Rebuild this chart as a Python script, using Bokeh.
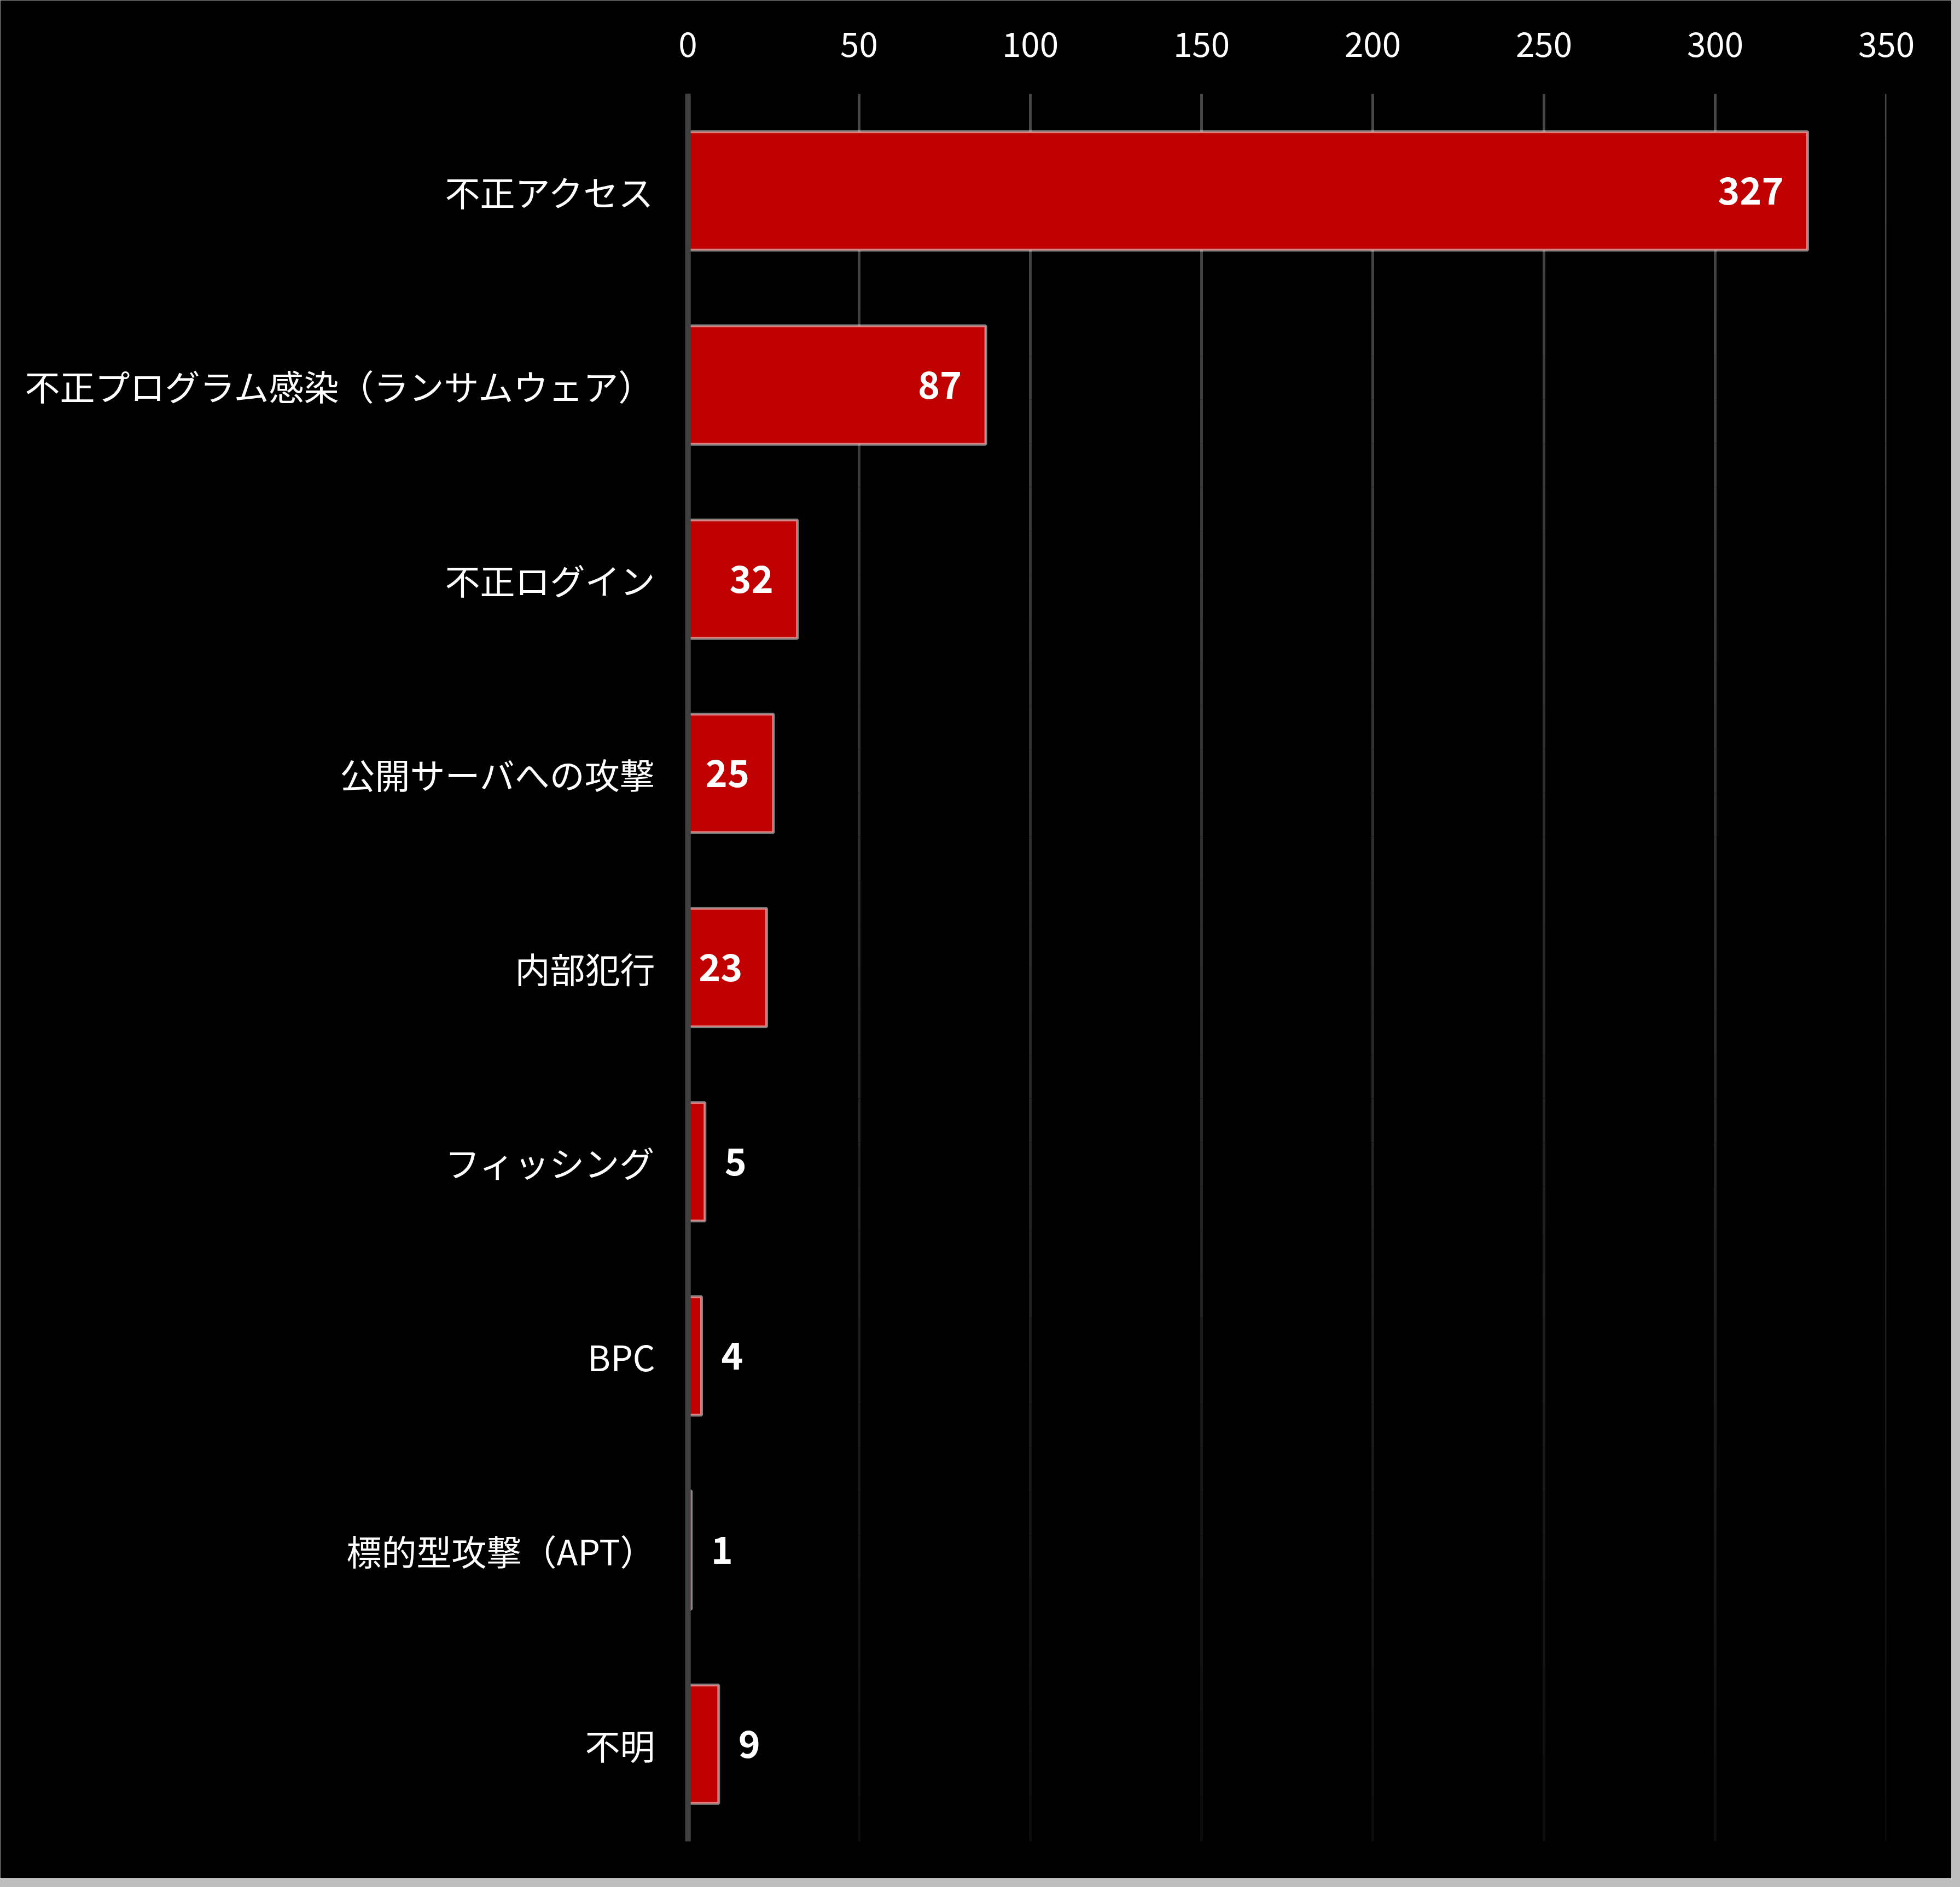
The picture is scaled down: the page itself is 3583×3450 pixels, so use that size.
from bokeh.core.properties import value
from bokeh.embed import file_html
from bokeh.models import ColumnDataSource, FactorRange, FixedTicker, Range1d
from bokeh.plotting import figure
from bokeh.resources import INLINE

# data, top to bottom as in the chart
categories = ["不正アクセス", "不正プログラム感染（ランサムウェア）", "不正ログイン",
              "公開サーバへの攻撃", "内部犯行", "フィッシング", "BPC",
              "標的型攻撃（APT）", "不明"]
counts = [327, 87, 32, 25, 23, 5, 4, 1, 9]
x_ticks = [0, 50, 100, 150, 200, 250, 300, 350]

JP = "Noto Sans CJK JP"

p = figure(width=3567, height=3434, output_backend="svg", toolbar_location=None,
           title=None, x_axis_location="above",
           x_range=Range1d(0, 350), y_range=FactorRange(*reversed(categories)),
           min_border_left=1257, min_border_right=119,
           min_border_top=171, min_border_bottom=68)
p.background_fill_color = "black"
p.border_fill_color = "black"
# black host so no light seams show between frame and border; grey edge round it
p.styles = {"background-color": "black",
            "outline": "5px solid #BEBEBE", "outline-offset": "-5px",
            "box-shadow": "0 0 0 16px #BEBEBE"}
p.outline_line_color = None
p.xgrid.grid_line_color = None
p.ygrid.grid_line_color = None
p.y_range.range_padding = 0

n_cat = len(categories)

# fading vertical gridlines (grey at the top, almost black at the bottom)
n_steps = 40
gx, gy0, gy1, gcol = [], [], [], []
top_c, bot_c = (0x48, 0x48, 0x48), (0x0c, 0x0c, 0x0c)
for t in x_ticks[1:]:
    for i in range(n_steps):
        f = (i + 0.5) / n_steps
        c = tuple(int(round(a + (b - a) * f)) for a, b in zip(top_c, bot_c))
        gx.append(t)
        gy0.append(n_cat - n_cat * i / n_steps)
        gy1.append(n_cat - n_cat * (i + 1) / n_steps)
        gcol.append("#%02x%02x%02x" % c)
p.segment(x0="x", y0="y0", x1="x", y1="y1", line_color="c", line_width=5,
          line_cap="butt", source=ColumnDataSource(dict(x=gx, y0=gy0, y1=gy1, c=gcol)))

src = ColumnDataSource(dict(cat=categories, n=counts,
                            label=[str(v) for v in counts],
                            align=["right" if v >= 20 else "left" for v in counts],
                            dx=[-44 if v >= 20 else 36 for v in counts]))

p.hbar(y="cat", left=0, right="n", height=0.61, source=src,
       fill_color="#C00000", line_color="white", line_alpha=0.5, line_width=5)

# grey zero line over the bar starts (inner half; the axis rule gives the outer half)
p.segment(x0=[0], y0=[0], x1=[0], y1=[n_cat], line_color="#404040", line_width=10,
          line_cap="butt")

p.text(x="n", y="cat", text="label", source=src, x_offset="dx",
       text_align="align", text_baseline="middle",
       text_font=value(JP), text_font_style="bold", text_font_size="68px",
       text_color="white")

p.xaxis.ticker = FixedTicker(ticks=x_ticks)
p.xaxis.axis_line_color = None
p.xaxis.major_tick_line_color = None
p.xaxis.minor_tick_line_color = None
p.xaxis.major_tick_out = 0
p.xaxis.major_label_standoff = 68
p.xaxis.major_label_text_font = JP
p.xaxis.major_label_text_font_size = "62px"
p.xaxis.major_label_text_color = "white"

p.yaxis.axis_line_color = "#404040"
p.yaxis.axis_line_width = 10
p.yaxis.major_tick_line_color = None
p.yaxis.minor_tick_line_color = None
p.yaxis.major_tick_out = 0
p.yaxis.major_label_standoff = 60
p.yaxis.major_label_text_font = JP
p.yaxis.major_label_text_font_size = "64px"
p.yaxis.major_label_text_color = "white"

open("out.html", "w").write(file_html(p, INLINE))
